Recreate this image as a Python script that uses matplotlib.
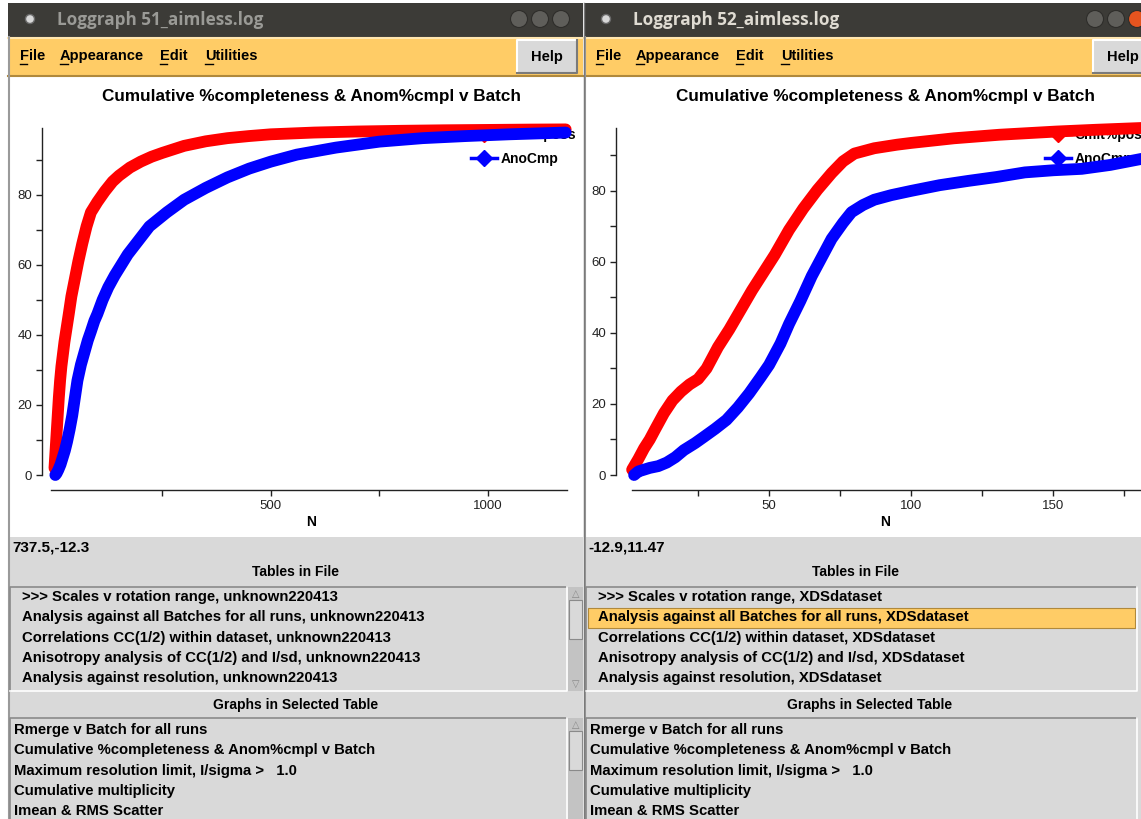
import numpy as np
import matplotlib
matplotlib.use("Agg")
import matplotlib.pyplot as plt
from matplotlib.patches import Rectangle, Circle
from matplotlib.lines import Line2D
from matplotlib.ticker import MultipleLocator, FixedLocator

W, H = 1141, 819
UI = ["Liberation Sans Narrow", "Liberation Sans", "DejaVu Sans"]
SANS = ["Liberation Sans", "DejaVu Sans"]
TITLEBAR_FONT = ["Open Sans", "DejaVu Sans"]

# Loggraph 51: cumulative completeness vs batch
n51_poss = [1, 2, 4, 6, 8, 11, 14, 17, 20, 24, 29, 34, 40, 48, 56, 65, 75, 85,
            100, 117, 135, 150, 175, 200, 225, 250, 300, 350, 400, 450, 500,
            600, 700, 800, 900, 1000, 1100, 1180]
cmlt51 = [2, 4, 8, 12, 16, 22, 27, 31, 34, 38, 42, 46, 51, 56, 61, 66, 71, 75,
          78, 81, 83.8, 85.5, 87.8, 89.5, 90.9, 92, 94, 95.3, 96.2, 96.8, 97.3,
          97.8, 98.1, 98.3, 98.45, 98.55, 98.65, 98.7]
n51_ano = [3, 6, 10, 15, 20, 25, 30, 36, 42, 48, 54, 62, 70, 78, 85, 93, 100,
           112, 125, 140, 150, 170, 195, 220, 260, 300, 350, 400, 450, 500, 560,
           650, 750, 850, 950, 1050, 1180]
ano51 = [0, 0.5, 1.5, 3, 5, 7, 9.5, 13, 17, 22, 27, 31.5, 35, 38.5, 41, 44, 46,
         50, 53.6, 57, 59, 63, 67, 71, 75, 78.6, 82, 85, 87.5, 89.5, 91.5,
         93.5, 95.2, 96.2, 96.8, 97.3, 97.8]

# Loggraph 52
n52_poss = [1.8, 4, 6, 8, 10, 13, 16, 19, 22, 25, 28, 32, 36, 40, 44, 48, 52,
            57, 62, 67, 72, 76, 80, 87, 95, 100, 115, 131, 151, 165, 181]
cmlt52 = [1.5, 4.5, 7.5, 10, 13, 17.4, 21, 23.5, 25.5, 27, 30, 36, 41, 46.5,
          52, 57, 62, 69, 75, 80.3, 85, 88.3, 90.5, 92, 93, 93.5, 94.8, 95.8,
          96.7, 97.2, 97.7]
n52_ano = [2.5, 4, 6, 8, 11, 14, 17, 20, 24, 27, 31, 35, 39, 43, 47, 50, 54,
           57, 61, 65, 69, 72, 76, 79, 83, 87, 93, 100, 110, 120, 130, 140,
           150, 160, 170, 181]
ano52 = [0, 1, 1.5, 2, 2.5, 3.5, 5, 7, 9, 10.7, 13, 15.5, 19, 23, 27.5, 31,
         37, 42.5, 49, 56, 62, 66.5, 71, 74, 76, 77.5, 78.8, 80, 81.6, 82.8,
         83.9, 85.2, 85.8, 86.2, 87.3, 89]

series_names = ["Cmlt%poss", "AnoCmp"]
plot_title = "Cumulative %completeness & Anom%cmpl v Batch"

tables = ["Scales v rotation range", "Analysis against all Batches for all runs",
          "Correlations CC(1/2) within dataset",
          "Anisotropy analysis of CC(1/2) and I/sd", "Analysis against resolution"]
graphs = ["Rmerge v Batch for all runs",
          "Cumulative %completeness & Anom%cmpl v Batch",
          "Maximum resolution limit, I/sigma >   1.0",
          "Cumulative multiplicity", "Imean & RMS Scatter"]
menus = ["File", "Appearance", "Edit", "Utilities"]

fig = plt.figure(figsize=(W / 100, H / 100), dpi=100)
bg = fig.add_axes([0, 0, 1, 1])
bg.set_xlim(0, W)
bg.set_ylim(H, 0)
bg.axis("off")

LIST_FS = 10.7


def rect(x0, y0, x1, y1, fc, ec="none", lw=0, z=1):
    bg.add_patch(Rectangle((x0, y0), x1 - x0, y1 - y0, fc=fc, ec=ec, lw=lw, zorder=z))


def sunken(x0, y0, x1, y1):
    bg.plot([x0, x0, x1], [y1, y0, y0], color="#8a8a8a", lw=1.2, zorder=3)
    bg.plot([x0, x1, x1], [y1, y1, y0], color="#ffffff", lw=1.2, zorder=3)


def window(x0, x1, name, active, coords, tbl_suffix, cx, highlight):
    # title bar
    rect(x0, 3, x1, 37, "#3c3b37")
    bg.add_patch(Circle((x0 + 22, 19), 4.5, fc="#d8d8d8", ec="#6a6a6a", lw=1, zorder=3))
    bg.text(x0 + 49, 20, "Loggraph " + name, color="#dfdbd2" if active else "#9a9a96",
            fontsize=12.3, fontweight="bold", family=TITLEBAR_FONT, va="center", zorder=3)
    bx = x0 + 511
    cols = ["#5f5e5a", "#5f5e5a", "#e5541f" if active else "#5f5e5a"]
    for i, c in enumerate(cols):
        bg.add_patch(Circle((bx + 21 * i, 19), 8.5, fc=c, ec="#2e2d2a", lw=0.8, zorder=3))
    # menu bar
    rect(x0, 37, x1, 77, "#ffcc66")
    bg.plot([x0, x1], [38, 38], color="#ffe6b0", lw=1.5, zorder=2)
    bg.plot([x0, x1], [76, 76], color="#b0893c", lw=1.5, zorder=2)
    mx = [x0 + 12, x0 + 52, x0 + 152, x0 + 197]
    uw = [7, 8, 7, 8]
    for m, x, w in zip(menus, mx, uw):
        bg.text(x, 56, m, fontsize=10.5, fontweight="bold", family=UI, va="center", zorder=3)
        bg.plot([x, x + w], [64, 64], color="black", lw=1, zorder=3)
    rect(x0 + 509, 40, x0 + 569, 73, "#d9d9d9", z=2)
    bg.plot([x0 + 509, x0 + 509, x0 + 569], [73, 40, 40], color="#ffffff", lw=1.5, zorder=3)
    bg.plot([x0 + 509, x0 + 569, x0 + 569], [73, 73, 40], color="#7a7a7a", lw=1.5, zorder=3)
    bg.text(x0 + 539, 57, "Help", fontsize=10.5, fontweight="bold", family=UI,
            ha="center", va="center", zorder=3)
    # graph area and lower panel
    rect(x0 + 2, 77, x1, 537, "white")
    rect(x0 + 2, 537, x1, H, "#d9d9d9")
    bg.plot([x0 + 1, x0 + 1], [37, H], color="#9a9a9a", lw=1.5, zorder=3)
    bg.text(x0 + 4, 547, coords, fontsize=11, fontweight="bold", family=UI, va="center", zorder=3)
    bg.text(cx[0], 572, "Tables in File", fontsize=10, fontweight="bold", family=UI,
            ha="center", va="center", zorder=3)
    bg.text(cx[1], 705, "Graphs in Selected Table", fontsize=10, fontweight="bold",
            family=UI, ha="center", va="center", zorder=3)
    lx1 = x0 + 559 if not active else x1 - 4
    sunken(x0 + 2, 587, lx1, 691)
    if highlight is not None:
        r = 608 + 20.3 * (highlight - 1)
        rect(x0 + 4, r, lx1 - 2, r + 20, "#ffcc66", ec="#b0893c", lw=0.8, z=2)
    for i, t in enumerate(tables):
        s = t + ", " + tbl_suffix
        if i == 0:
            s = ">>> " + s
        bg.text(x0 + 14, 597 + 20.3 * i, s, fontsize=LIST_FS, fontweight="bold", family=UI,
                va="center", zorder=3)
    sunken(x0 + 2, 718, lx1, H + 5)
    for i, g in enumerate(graphs):
        bg.text(x0 + 6, 730 + 20.3 * i, g, fontsize=LIST_FS, fontweight="bold", family=UI,
                va="center", zorder=3)
    if not active:
        # scroll bars
        for ytop, ybot in [(587, 691), (718, H + 5)]:
            rect(x0 + 560, ytop, x0 + 575, ybot, "#c3c3c3", z=2)
            rect(x0 + 561, ytop + 13, x0 + 574, ytop + 52, "#d9d9d9", ec="#8a8a8a", lw=0.8, z=3)
            bg.text(x0 + 567.5, ytop + 7, "\u25b3", fontsize=7, ha="center", va="center",
                    color="#8a8a8a", zorder=3)
            if ybot < H:
                bg.text(x0 + 567.5, ybot - 7, "\u25bd", fontsize=7, ha="center", va="center",
                        color="#8a8a8a", zorder=3)


rect(0, 0, W, H, "white", z=0)
window(8, 583, "51_aimless.log", False, "737.5,-12.3", "unknown220413", (296, 296), None)
window(584, W, "52_aimless.log", True, "-12.9,11.47", "XDSdataset", (856, 870), 1)
bg.plot([583.5, 583.5], [3, H], color="#7a7a7a", lw=1, zorder=4)


def graph(rect_px, xlim, ylim, left_off, xmaj, xmin, data, leg_px, title_x):
    l, b, r, t = rect_px
    ax = fig.add_axes([l / W, 1 - b / H, (r - l) / W, (b - t) / H])
    ax.set_facecolor("none")
    for s in ["top", "right"]:
        ax.spines[s].set_visible(False)
    ax.spines["left"].set_position(("outward", left_off * 0.72))
    ax.spines["bottom"].set_position(("outward", 15 * 0.72))
    for s in ["left", "bottom"]:
        ax.spines[s].set_color("#222222")
        ax.spines[s].set_linewidth(1.0)
    ax.yaxis.set_major_locator(MultipleLocator(20))
    ax.yaxis.set_minor_locator(MultipleLocator(10))
    # batch axis ticks only for N > 0
    ax.xaxis.set_major_locator(FixedLocator(np.arange(xmaj, xlim[1], xmaj)))
    ax.xaxis.set_minor_locator(FixedLocator(np.arange(xmin, xlim[1], xmin)))
    ax.tick_params(which="both", direction="out", length=4, width=1, color="#222222",
                   labelsize=9.5, labelcolor="#222222", pad=3)
    (nx1, y1), (nx2, y2) = data
    ax.plot(nx1, y1, color="#ff0000", lw=8.5, solid_capstyle="round",
            solid_joinstyle="round", clip_on=False, zorder=3)
    ax.plot(nx2, y2, color="#0000ff", lw=8.5, solid_capstyle="round",
            solid_joinstyle="round", clip_on=False, zorder=3)
    ax.set_xlim(*xlim)
    ax.set_ylim(*ylim)
    ax.spines["left"].set_bounds(0, ylim[1])
    for lab in ax.get_xticklabels() + ax.get_yticklabels():
        lab.set_family(SANS)
    handles = [Line2D([], [], color="#ff0000", lw=2.5, marker="D", ms=8),
               Line2D([], [], color="#0000ff", lw=2.5, marker="D", ms=8)]
    leg = ax.legend(handles, series_names, loc="upper left",
                    bbox_to_anchor=(leg_px[0] / W, 1 - leg_px[1] / H),
                    bbox_transform=fig.transFigure, frameon=False, borderpad=0,
                    handlelength=1.9, handletextpad=0.25, labelspacing=0.7,
                    prop={"family": UI, "weight": "bold", "size": 10})
    leg.set_zorder(2)
    fig.text(title_x / W, 1 - 96 / H, plot_title, ha="center", va="center",
             fontsize=12.3, fontweight="bold", family=SANS)
    fig.text(title_x / W, 1 - 522 / H, "N", ha="center", va="center",
             fontsize=10, fontweight="bold", family=SANS)
    return ax


graph((51, 475, 567, 128), (-7, 1183), (0, 99.1), 9, 500, 250,
      ((n51_poss, cmlt51), (n51_ano, ano51)), (464, 121), 311)
graph((632, 475, 1167, 128), (1.76, 190), (0, 97.7), 16, 50, 25,
      ((n52_poss, cmlt52), (n52_ano, ano52)), (1038, 121), 885)

fig.savefig("out.png", dpi=100)
